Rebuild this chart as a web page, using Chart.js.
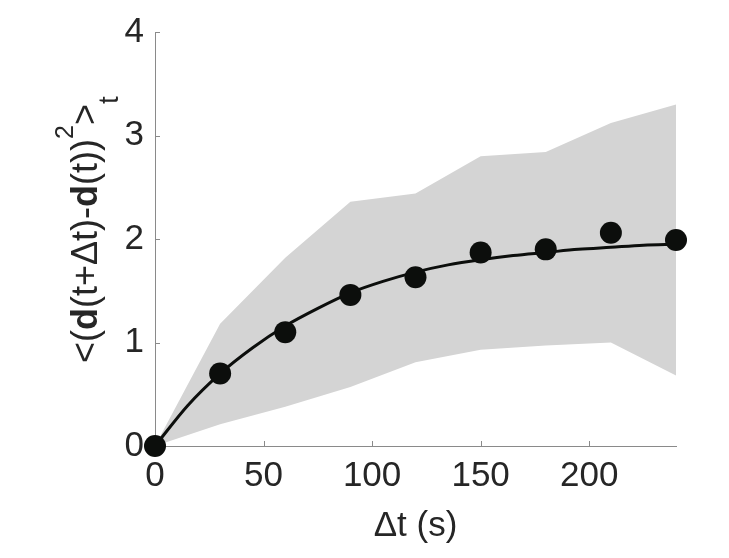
<!DOCTYPE html>
<html>
<head>
<meta charset="utf-8">
<script src="https://cdn.jsdelivr.net/npm/chart.js@4.4.1/dist/chart.umd.min.js"></script>
<style>
  body { margin: 0; background: #fff; }
  #wrap { width: 729px; height: 558px; }
</style>
</head>
<body>
<div id="wrap"><canvas id="grafico_msd" width="729" height="558"></canvas></div>
<script>
// valores
var xTicks = [0, 50, 100, 150, 200];
var yTicks = [0, 1, 2, 3, 4];
var lagTimes = [0, 30, 60, 90, 120, 150, 180, 210, 240];
var msdMean = [0, 0.70, 1.10, 1.46, 1.63, 1.87, 1.90, 2.06, 1.99];
var bandUpper = [0, 1.18, 1.82, 2.36, 2.44, 2.80, 2.84, 3.12, 3.30];
var bandLower = [0, 0.21, 0.38, 0.57, 0.81, 0.93, 0.97, 1.00, 0.68];
var fitTimes = [0, 15, 30, 45, 60, 75, 90, 105, 120, 135, 150, 165, 180, 195, 210, 225, 240];
var fitValues = [0, 0.39, 0.70, 0.95, 1.16, 1.33, 1.48, 1.59, 1.68, 1.75, 1.80, 1.84, 1.87, 1.90, 1.92, 1.94, 1.95];

var corTexto = "#262626";
var corEixo = "#8a8a8a";

function pares(xs, ys) {
	return xs.map(function (x, i) {
		return { x: x, y: ys[i] };
	});
}

// ticks para dentro, estilo matlab
var ticksInternos = {
	id: "ticksInternos",
	afterDatasetsDraw: function (chart) {
		var ctx = chart.ctx;
		var area = chart.chartArea;
		var sx = chart.scales.x;
		var sy = chart.scales.y;
		ctx.save();
		ctx.strokeStyle = corEixo;
		ctx.lineWidth = 1;
		ctx.beginPath();
		xTicks.forEach(function (v) {
			if (v === 0) return;
			var px = Math.round(sx.getPixelForValue(v)) + 0.5;
			ctx.moveTo(px, area.bottom);
			ctx.lineTo(px, area.bottom - 5);
		});
		yTicks.forEach(function (v) {
			if (v === 0) return;
			var py = Math.round(sy.getPixelForValue(v)) + 0.5;
			ctx.moveTo(area.left, py);
			ctx.lineTo(area.left + 5, py);
		});
		ctx.stroke();
		ctx.restore();
	},
};

// titulo do eixo y com negrito, sobrescrito e subscrito
var tituloY = {
	id: "tituloY",
	afterDraw: function (chart) {
		var ctx = chart.ctx;
		var familia = "'Liberation Sans', Arial, sans-serif";
		var partes = [
			{ t: "<(", f: "36px " + familia, dy: 0 },
			{ t: "d", f: "bold 36px " + familia, dy: 0 },
			{ t: "(t+\u0394t)-", f: "36px " + familia, dy: 0 },
			{ t: "d", f: "bold 36px " + familia, dy: 0 },
			{ t: "(t))", f: "36px " + familia, dy: 0 },
			{ t: "2", f: "25px " + familia, dy: -24 },
			{ t: ">", f: "36px " + familia, dy: 0 },
			{ t: "t", f: "28px " + familia, dy: 21 },
		];
		ctx.save();
		ctx.translate(97, 363);
		ctx.rotate(-Math.PI / 2);
		ctx.fillStyle = corTexto;
		ctx.textBaseline = "alphabetic";
		ctx.textAlign = "left";
		var pos = 0;
		partes.forEach(function (p) {
			ctx.font = p.f;
			ctx.fillText(p.t, pos, p.dy);
			pos += ctx.measureText(p.t).width;
		});
		ctx.restore();
	},
};

var config = {
	type: "scatter",
	data: {
		datasets: [
			{
				label: "media",
				data: pares(lagTimes, msdMean),
				pointRadius: 11,
				pointHoverRadius: 11,
				pointBackgroundColor: "#0c0e0c",
				pointBorderWidth: 0,
				showLine: false,
				clip: false,
				order: 0,
			},
			{
				label: "ajuste",
				data: pares(fitTimes, fitValues),
				showLine: true,
				borderColor: "#0c0e0c",
				borderWidth: 3,
				pointRadius: 0,
				cubicInterpolationMode: "monotone",
				clip: false,
				order: 1,
			},
			{
				label: "superior",
				data: pares(lagTimes, bandUpper),
				showLine: true,
				borderWidth: 0,
				pointRadius: 0,
				backgroundColor: "#d4d4d4",
				fill: 3,
				order: 2,
			},
			{
				label: "inferior",
				data: pares(lagTimes, bandLower),
				showLine: true,
				borderWidth: 0,
				pointRadius: 0,
				fill: false,
				order: 3,
			},
		],
	},
	options: {
		responsive: false,
		animation: false,
		devicePixelRatio: 1,
		layout: {
			padding: { left: 0, right: 53, top: 30, bottom: 0 },
		},
		scales: {
			x: {
				type: "linear",
				min: 0,
				max: 240,
				afterBuildTicks: function (scale) {
					scale.ticks = xTicks.map(function (v) {
						return { value: v };
					});
				},
				afterFit: function (scale) {
					scale.height = 112;
				},
				grid: { display: false, drawTicks: false },
				border: { display: true, color: corEixo, width: 1 },
				ticks: {
					color: corTexto,
					font: { size: 35 },
					padding: 9,
					maxRotation: 0,
					autoSkip: false,
				},
				title: {
					display: true,
					text: "\u0394t (s)",
					color: corTexto,
					font: { size: 35 },
					padding: { top: 2, bottom: 11 },
				},
			},
			y: {
				type: "linear",
				min: 0,
				max: 4,
				afterBuildTicks: function (scale) {
					scale.ticks = yTicks.map(function (v) {
						return { value: v };
					});
				},
				afterFit: function (scale) {
					scale.width = 155;
				},
				grid: { display: false, drawTicks: false },
				border: { display: true, color: corEixo, width: 1 },
				ticks: {
					color: corTexto,
					font: { size: 35 },
					padding: 11,
				},
			},
		},
		plugins: {
			legend: { display: false },
			tooltip: { enabled: false },
		},
	},
};

Chart.defaults.font.family = "'Liberation Sans', Arial, sans-serif";

let myChart = new Chart(
	document.getElementById("grafico_msd"),
	{ type: config.type, data: config.data, options: config.options, plugins: [ticksInternos, tituloY] }
);
</script>
</body>
</html>
